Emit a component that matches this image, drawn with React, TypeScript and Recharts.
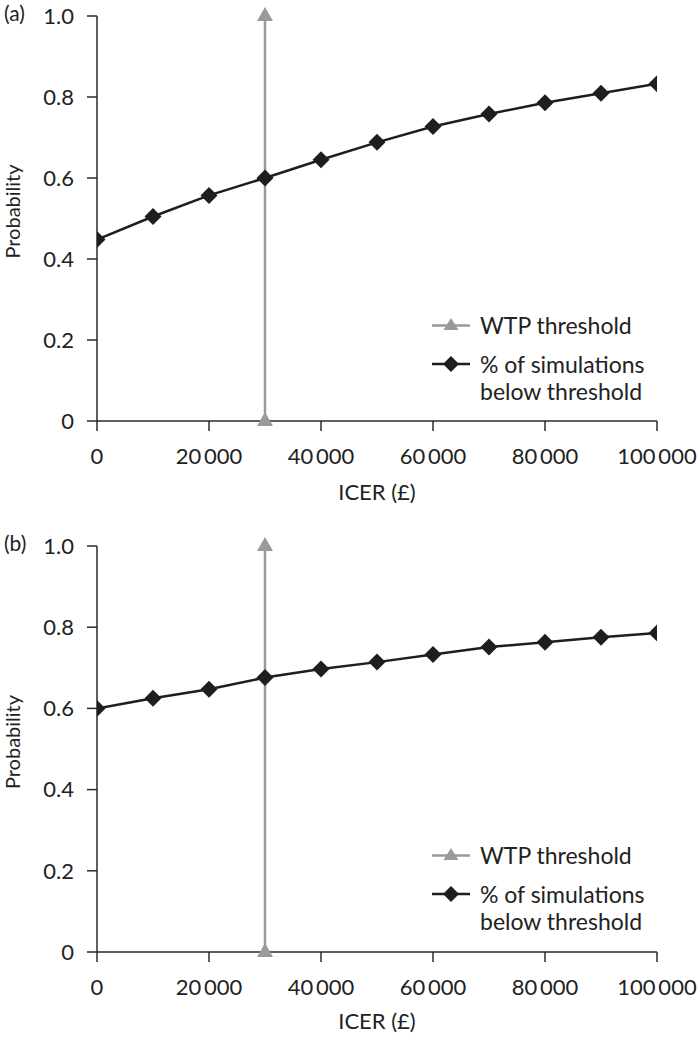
import React from 'react';
import { LineChart, Line, XAxis, YAxis, Legend } from 'recharts';

const icerValues = [0, 10000, 20000, 30000, 40000, 50000, 60000, 70000, 80000, 90000, 100000];
const probA = [0.448, 0.505, 0.557, 0.6, 0.645, 0.688, 0.727, 0.758, 0.786, 0.809, 0.833];
const probB = [0.6, 0.625, 0.647, 0.676, 0.697, 0.714, 0.733, 0.751, 0.763, 0.775, 0.786];
const wtpX = [30000, 30000];
const wtpY = [0, 1];
const xTicks = [0, 20000, 40000, 60000, 80000, 100000];
const yTicks = [0, 0.2, 0.4, 0.6, 0.8, 1.0];
const panelLabels = ['(a)', '(b)'];
const seriesNames = ['WTP threshold', '% of simulations', 'below threshold'];
const yAxisTitle = 'Probability';
const xAxisTitle = 'ICER (£)';

const FONT = 'Lato, "Open Sans", sans-serif';
const GRAY = '#9a9a9a';
const BLACK = '#1e1e1e';
const AXIS = '#2a2a2a';

const fmtX = (v: number) => (v === 0 ? '0' : `${Math.floor(v / 1000)}\u2009${String(v % 1000).padStart(3, '0')}`);
const fmtY = (v: number) => (v === 0 ? '0' : v.toFixed(1));

const Triangle = (props: any) => {
  const { cx, cy } = props;
  if (cx == null || cy == null) return null;
  return <polygon points={`${cx},${cy - 9} ${cx - 8},${cy + 5} ${cx + 8},${cy + 5}`} fill={GRAY} />;
};

const Diamond = (props: any) => {
  const { cx, cy } = props;
  if (cx == null || cy == null) return null;
  const s = 8.5;
  return <polygon points={`${cx},${cy - s} ${cx + s},${cy} ${cx},${cy + s} ${cx - s},${cy}`} fill={BLACK} />;
};

const YTitle = (props: any) => {
  const vb = props.viewBox || {};
  const cx = 12;
  const cy = (vb.y ?? 0) + (vb.height ?? 0) / 2 - 7;
  return (
    <text x={cx} y={cy} transform={`rotate(-90 ${cx} ${cy})`} textAnchor="middle" dominantBaseline="central" fill="#222" fontSize={20} fontFamily={FONT}>
      {yAxisTitle}
    </text>
  );
};

const LegendContent = () => (
  <div style={{ fontFamily: FONT, fontSize: 23, color: '#222', lineHeight: '27px' }}>
    <div style={{ display: 'flex', alignItems: 'flex-start', height: 27, marginBottom: 12 }}>
      <svg width={40} height={27} style={{ marginRight: 10, flexShrink: 0 }}>
        <line x1={2} y1={13.5} x2={40} y2={13.5} stroke={GRAY} strokeWidth={2.5} />
        <polygon points="21,6 13.5,18 28.5,18" fill={GRAY} />
      </svg>
      <span style={{ whiteSpace: 'nowrap' }}>{seriesNames[0]}</span>
    </div>
    <div style={{ display: 'flex', alignItems: 'flex-start' }}>
      <svg width={40} height={27} style={{ marginRight: 10, flexShrink: 0 }}>
        <line x1={2} y1={13} x2={40} y2={13} stroke={BLACK} strokeWidth={2.5} />
        <polygon points="21,5 29,13 21,21 13,13" fill={BLACK} />
      </svg>
      <span style={{ whiteSpace: 'nowrap' }}>
        {seriesNames[1]}
        <br />
        {seriesNames[2]}
      </span>
    </div>
  </div>
);

function Panel({ probs, label, height, xAxisHeight, labelOffset }: { probs: number[]; label: string; height: number; xAxisHeight: number; labelOffset: number }) {
  const data = icerValues.map((x, i) => ({ x, p: probs[i] }));
  const wtp = wtpX.map((x, i) => ({ x, w: wtpY[i] }));
  return (
    <div style={{ position: 'relative', width: 698, height }}>
      <div style={{ position: 'absolute', left: 4, top: 0, fontFamily: FONT, fontSize: 21, color: '#222' }}>{label}</div>
      <LineChart width={698} height={height} data={data} margin={{ top: 16, right: 41, left: 0, bottom: 0 }}>
        <XAxis
          dataKey="x"
          type="number"
          domain={[0, 100000]}
          ticks={xTicks}
          tickFormatter={fmtX}
          height={xAxisHeight}
          tickSize={10}
          tickMargin={17}
          stroke={AXIS}
          strokeWidth={1.5}
          tick={{ fill: '#222', fontSize: 22, fontFamily: FONT }}
          allowDataOverflow
          label={{ value: xAxisTitle, position: 'insideBottom', offset: labelOffset, style: { fill: '#222', fontSize: 22, fontFamily: FONT } }}
        />
        <YAxis
          type="number"
          domain={[0, 1]}
          ticks={yTicks}
          tickFormatter={fmtY}
          width={97}
          tickSize={10}
          tickMargin={13}
          stroke={AXIS}
          strokeWidth={1.5}
          tick={{ fill: '#222', fontSize: 22, fontFamily: FONT }}
          label={<YTitle />}
        />
        <Line data={wtp} dataKey="w" stroke={GRAY} strokeWidth={2.5} dot={<Triangle />} isAnimationActive={false} name="WTP threshold" />
        <Line dataKey="p" stroke={BLACK} strokeWidth={2.5} dot={<Diamond />} isAnimationActive={false} name="% of simulations below threshold" />
        <Legend content={<LegendContent />} layout="vertical" align="center" verticalAlign="middle" wrapperStyle={{ left: 430, top: 312, width: 260 }} />
      </LineChart>
    </div>
  );
}

export default function App() {
  return (
    <div style={{ position: 'absolute', left: 0, top: 0, width: 698, height: 1038, background: '#fff' }}>
      <Panel probs={probA} label={panelLabels[0]} height={530} xAxisHeight={109} labelOffset={30} />
      <Panel probs={probB} label={panelLabels[1]} height={508} xAxisHeight={86} labelOffset={9} />
    </div>
  );
}
